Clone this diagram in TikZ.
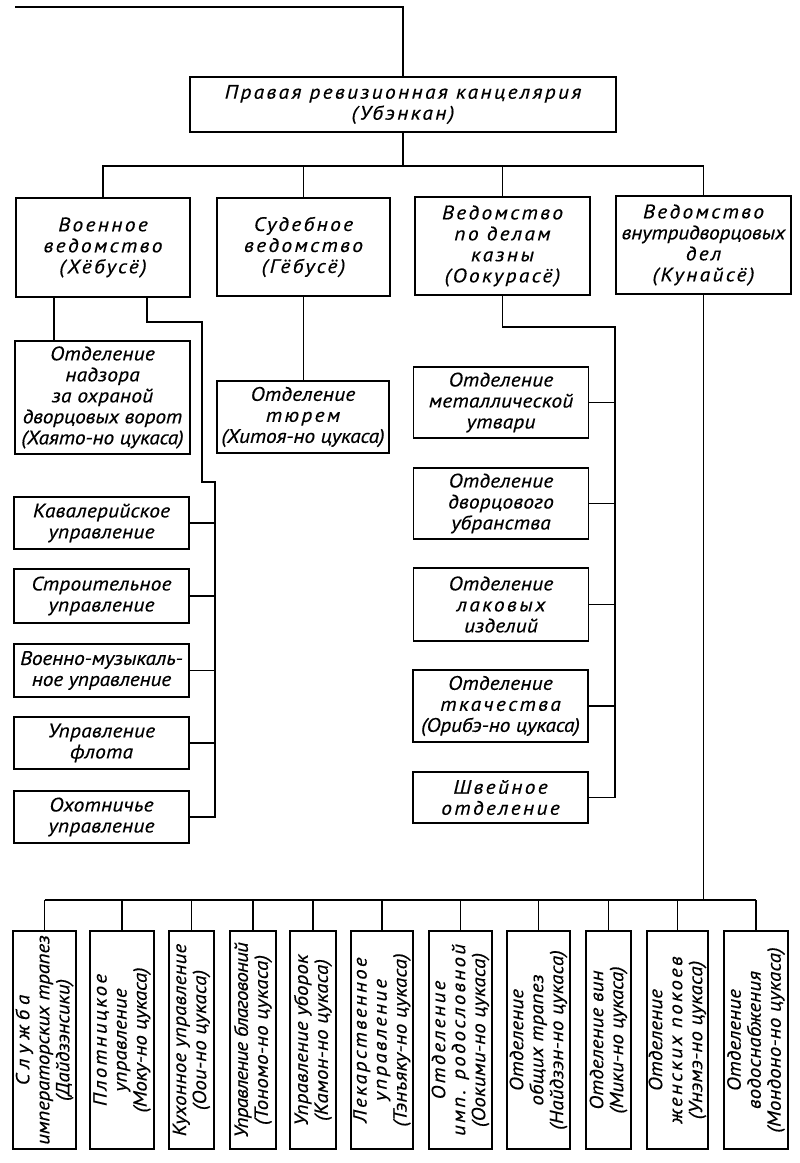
\documentclass[tikz,border=0pt]{standalone}
\usepackage{fontspec}
\setmainfont{PT Sans}[FakeStretch=1.1, LetterSpace=1, FakeBold=0.4]
\usetikzlibrary{calc}
\newcommand\spw{\addfontfeature{LetterSpace=12}}
\newcommand\spn{\addfontfeature{LetterSpace=-1}}
\newcommand\spnn{\addfontfeature{LetterSpace=-4}}
\newcommand\spx{\addfontfeature{LetterSpace=26}}
\newcommand\gf{\itshape\fontsize{19.5}{21}\selectfont}
\newcommand\gfs{\itshape\fontsize{19}{20}\selectfont}
\begin{document}
\begin{tikzpicture}[x=1pt,y=-1pt,
  box/.style={draw, line width=1.6pt, inner sep=0pt, align=center, font=\gf},
  wbox/.style={box, font=\gf\spw},
  lbox/.style={box, minimum width=175pt},
  vbox/.style={box, rotate=90, minimum width=218pt, font=\gfs},
  con/.style={line width=1.5pt}]
\fill[white] (0,0) rectangle (800,1163);
\useasboundingbox (0,0) rectangle (800,1163);

% top level
\node[wbox, minimum width=426pt, minimum height=55pt] (main) at (403,104.5) {Правая ревизионная канцелярия\\(Убэнкан)};
\coordinate (top) at (15,7);
\draw[con] (top) -- (top -| main.north) -- (main.north);

% departments
\node[wbox, minimum width=174pt, minimum height=99pt] (d1) at (103,247.5) {Военное\\ведомство\\(Хёбусё)};
\node[wbox, minimum width=173pt, minimum height=98pt] (d2) at (303.5,247) {Судебное\\ведомство\\(Гёбусё)};
\node[wbox, minimum width=175pt, minimum height=98pt] (d3) at (502.5,246) {Ведомство\\по делам\\казны\\(Оокурасё)};
\node[wbox, minimum width=175pt, minimum height=98pt] (d4) at (703.5,245) {Ведомство\\{\spn внутридворцовых}\\дел\\(Кунайсё)};
\coordinate (bus) at (0,166);
\draw[con] (main.south) -- (main.south |- bus);
\draw[con] (d1.north) -- (d1.north |- bus) -- (d4.north |- bus) -- (d4.north);
\draw[con] (d2.north) -- (d2.north |- bus);
\draw[con] (d3.north) -- (d3.north |- bus);

% military
\node[box, minimum width=175pt, minimum height=113pt] (nad) at (102.5,397.5) {Отделение\\надзора\\за охраной\\{\spn дворцовых ворот}\\{\spn (Хаято-но цукаса)}};
\coordinate (xn) at (54,0);
\draw[con] (d1.south -| xn) -- (nad.north -| xn);
\node[lbox, minimum height=52pt] (kav) at (101.5,523) {Кавалерийское\\управление};
\node[lbox, minimum height=54pt] (str) at (101.5,596) {Строительное\\управление};
\node[lbox, minimum height=53pt] (vm) at (101.5,670.5) {{\spn Военно-музыкаль-}\\{\spn ное управление}};
\node[lbox, minimum height=52pt] (fl) at (101.5,743) {Управление\\флота};
\node[lbox, minimum height=52pt] (oh) at (101.5,817) {Охотничье\\управление};
\coordinate (a1) at (147,0);
\coordinate (k1) at (202,322);
\coordinate (k2) at (215,482);
\draw[con] (d1.south -| a1) |- (k1) |- (k2) |- (oh.east);
\foreach \n in {kav,str,vm,fl} \draw[con] (\n.east) -- (\n.east -| k2);

% judicial
\node[box, minimum width=172pt, minimum height=72pt] (tur) at (303,417) {Отделение\\{\spw тюрем}\\{\spn (Хитоя-но цукаса)}};
\draw[con] (d2.south) -- (d2.south |- tur.north);

% treasury
\node[lbox, minimum height=71pt] (met) at (501,402.5) {Отделение\\металлической\\утвари};
\node[lbox, minimum height=71pt] (dv) at (501,503.5) {Отделение\\дворцового\\убранства};
\node[lbox, minimum height=73pt] (lak) at (501,604.5) {Отделение\\{\spw лаковых}\\изделий};
\node[lbox, minimum height=72pt] (tk) at (500.5,706) {Отделение\\{\spw ткачества}\\{\spn (Орибэ-но цукаса)}};
\node[lbox, minimum height=51pt, font=\gf\spw] (shv) at (500.5,797.5) {Швейное\\отделение};
\coordinate (k3) at (615,327);
\draw[con] (d3.south) |- (k3) |- (shv.east);
\foreach \n in {met,dv,lak,tk} \draw[con] (\n.east) -- (\n.east -| k3);

% imperial household
\node[vbox, minimum height=63pt] (A) at (44.5,1040) {{\spx Служба}\\{\spn императорских трапез}\\{\spn (Дайдзэнсики)}};
\node[vbox, minimum height=64pt] (B) at (122,1040) {{\spw Плотницкое}\\управление\\{\spn (Моку-но цукаса)}};
\node[vbox, minimum height=45pt] (C) at (191.5,1040) {Кухонное управление\\(Оои-но цукаса)};
\node[vbox, minimum height=46pt] (D) at (253,1040) {{\spnn Управление благовоний}\\(Тономо-но цукаса)};
\node[vbox, minimum height=46pt] (E) at (313,1040) {Управление уборок\\(Камон-но цукаса)};
\node[vbox, minimum height=62pt] (F) at (382,1040) {{\spw Лекарственное}\\{\spw управление}\\(Тэнъяку-но цукаса)};
\node[vbox, minimum height=63pt] (G) at (460.5,1040) {{\spw Отделение}\\{\spw имп. родословной}\\(Оокими-но цукаса)};
\node[vbox, minimum height=63pt] (H) at (538.5,1040) {Отделение\\общих трапез\\(Найдзэн-но цукаса)};
\node[vbox, minimum height=45pt] (I) at (608.5,1040) {Отделение вин\\{\spn (Мики-но цукаса)}};
\node[vbox, minimum height=61pt] (J) at (677.5,1040) {Отделение\\{\spw женских покоев}\\(Унэмэ-но цукаса)};
\node[vbox, minimum height=64pt] (K) at (756,1040) {Отделение\\водоснабжения\\(Мондоно-но цукаса)};
\coordinate (bb) at (0,900);
\draw[con] (d4.south) -- (d4.south |- bb);
\draw[con] (A.east |- bb) -- (K.east |- bb);
\foreach \n in {A,B,C,D,E,F,G,H,I,J,K} \draw[con] (\n.east) -- (\n.east |- bb);
\end{tikzpicture}
\end{document}
